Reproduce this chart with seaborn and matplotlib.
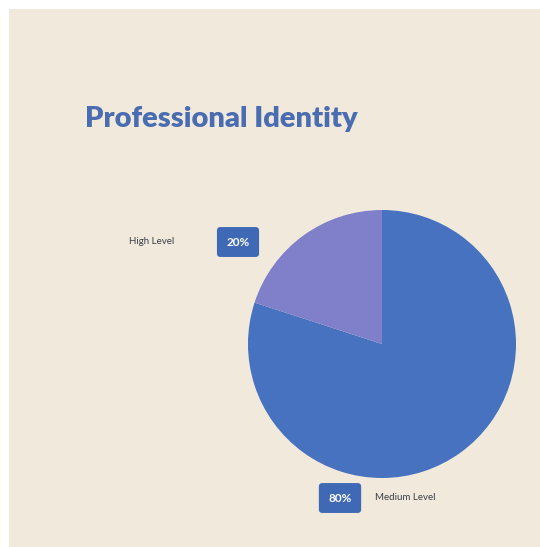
import matplotlib
matplotlib.use("Agg")
import matplotlib.pyplot as plt
from matplotlib.patches import Rectangle
import seaborn as sns

# Data
categories = ["Medium Level", "High Level"]
shares = [80, 20]
colors = ["#4672bf", "#8080ca"]

sns.set_theme(style="white")
plt.rcParams["font.family"] = ["Lato", "DejaVu Sans"]

W, H = 540, 547
fig = plt.figure(figsize=(W / 100, H / 100), dpi=100)
fig.patch.set_facecolor("white")
fig.patches.append(Rectangle((9 / W, 0), 1 - 9 / W, 1 - 9 / H, transform=fig.transFigure,
                             facecolor="#f0e9dc", edgecolor="none", zorder=-5))

# Pie axes: centre (382, 344) px, radius 134 px
cx, cy, r = 382, 344, 134
ax = fig.add_axes([(cx - r) / W, (H - cy - r) / H, 2 * r / W, 2 * r / H])
ax.set_zorder(2)
ax.set_facecolor("none")
ax.pie(shares, colors=colors, startangle=90, counterclock=False,
       wedgeprops=dict(linewidth=0))
ax.set_xlim(-1, 1)
ax.set_ylim(-1, 1)
ax.set_aspect("equal")
ax.axis("off")

def px(x, y):
    return x / W, 1 - y / H

fig.text(*px(85, 119), "Professional Identity", fontsize=21, fontweight="heavy",
         color="#4a6cb0", ha="left", va="center")

box = dict(boxstyle="round,pad=0.8,rounding_size=0.3", facecolor="#3f68b5", edgecolor="none")
label_pos = {"High Level": ((238, 242), (152, 241), "center"),
             "Medium Level": ((340, 498), (375, 497), "left")}
for cat, val in zip(categories, shares):
    (bx, by), (tx, ty), ha = label_pos[cat]
    fig.text(*px(bx, by), f"{val}%", fontsize=8.5, fontweight="bold", color="white",
             ha="center", va="center", bbox=box)
    fig.text(*px(tx, ty), cat, fontsize=7, color="#3a3f4a", ha=ha, va="center")

fig.savefig("out.png", dpi=100)
